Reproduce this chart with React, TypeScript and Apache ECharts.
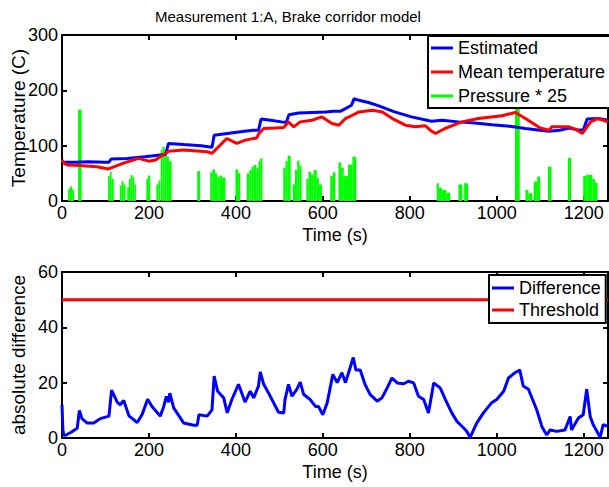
import React, { useEffect, useRef } from "react";
import * as echarts from "echarts";

// ---------- data ----------
const estT = [0,30,60,100,108,113,150,190,226,238,245,280,320,345,350,380,420,440,452,458,480,505,516,522,544,575,606,625,640,652,666,672,683,705,729,765,804,850,874,912,950,989,1030,1066,1100,1120,1145,1166,1185,1199,1208,1235,1256];
const estV = [70,70,71,70,70,76,77,80,83,84,104,102,100,97,119,122,126,128,128,148,146,143,142,156,159,160,161,162,162,167,173,185,182,178,172,161,152,144,146,143,141,138,135,131,128,126,128,132,129,128,148,149,146];

const meanT = [0,5,12,40,80,107,140,176,200,215,226,245,280,334,345,379,402,422,448,453,464,490,510,521,533,548,575,598,621,637,652,668,683,714,737,760,790,813,836,847,859,881,920,958,1012,1043,1066,1100,1120,1127,1166,1180,1197,1216,1232,1256];
const meanV = [74,68,65,64,62,58,68,77,72,74,80,90,92,89,86,113,104,110,114,122,131,132,133,143,134,143,146,152,140,137,149,155,161,164,161,149,137,134,136,128,122,131,143,149,154,160,149,132,128,134,134,130,122,143,149,143];

// pressure * 25 pulses: start time, end time, value
const pStart = [14,18,24,37,106,110,114,133,137,141,150,154,158,162,166,194,198,217,222,227,231,236,241,246,311,341,346,352,357,362,368,399,405,425,431,436,441,447,452,456,509,514,519,531,536,541,546,562,567,573,579,586,591,617,623,636,642,648,658,668,862,867,874,884,912,925,1042,1066,1073,1085,1093,1118,1164,1199,1206,1212,1220,1226];
const pEnd   = [18,24,28,45,110,114,119,137,141,146,154,158,162,166,170,198,203,222,226,231,236,241,246,252,318,346,352,357,362,368,376,405,410,431,436,441,447,452,456,461,514,519,526,536,541,546,551,567,573,579,586,591,598,623,629,642,648,658,668,677,867,874,884,893,921,934,1053,1073,1082,1093,1100,1126,1171,1206,1212,1220,1226,1232];
const pValue = [22,26,20,165,45,53,40,28,36,30,25,40,47,44,30,40,46,30,37,92,98,89,80,72,54,52,57,50,44,46,42,57,50,50,56,62,65,60,72,77,60,72,82,30,56,73,64,40,53,48,56,42,30,45,52,70,60,45,66,80,32,24,20,15,30,32,200,20,14,35,44,62,78,45,48,47,40,33];

const diffT = [0,2,4,8,20,35,40,46,58,73,88,108,114,127,134,142,154,173,184,197,207,226,234,240,245,248,257,280,303,311,315,334,345,350,358,372,380,391,406,421,433,441,452,456,464,475,498,510,513,521,529,540,548,556,571,583,590,600,610,623,633,644,652,663,670,676,686,697,709,725,736,748,759,771,786,797,809,820,832,843,855,870,882,897,909,924,931,939,954,969,988,1000,1016,1027,1042,1053,1061,1073,1092,1104,1115,1123,1138,1157,1169,1172,1188,1199,1207,1215,1222,1238,1245,1256];
const diffV = [12,3,1,1,2,3.5,10,7,5.4,5.4,7,7.9,17.3,13,12,13.6,8,5.6,8.4,14,11.4,7.9,11.4,15,12.9,16.2,10.9,5.4,4.6,4.6,8.4,7.9,10.2,22.4,16.9,14.5,9.1,14,19.4,13,16.9,14.5,18.8,23.9,19.4,16.3,9.3,9,13.9,19.4,15.1,17.6,20.2,15.7,13.9,11.4,11.4,8.4,12.7,23,20,23.6,20,25.5,29.1,24.6,24.6,19.4,15.7,13.3,14.5,18.1,21.7,19.9,19.6,20.5,19.9,15.1,13.9,9,19.9,18.1,13.9,9,5.9,3.6,2.4,0.3,5.4,9,12.7,13.9,16.9,21.7,23.6,24.6,18.8,17.6,10.2,4.1,1.1,2.9,2.4,2.9,7.8,2.9,7.2,8.4,17.6,7.8,4.8,0.3,4.8,4.2];

const thresholdT = [0, 1256];
const thresholdV = [50, 50];

const X_MAX = 1256;
const FONT = '"Liberation Sans", Arial, Helvetica, sans-serif';

const zip = (a: number[], b: number[]) => a.map((v, i) => [v, b[i]]);

function frameAxes(grid: number, yMin: number, yMax: number, yInt: number, yName: string) {
  const line = { show: true, onZero: false, lineStyle: { color: "#000", width: 2 } };
  const tick = { show: true, inside: true, length: 5, lineStyle: { color: "#000", width: 2 } };
  const label = { color: "#000", fontFamily: FONT, fontSize: 18 };
  const xAxes = [
    {
      type: "value", gridIndex: grid, position: "bottom", min: 0, max: X_MAX, interval: 200,
      axisLine: line, axisTick: tick, splitLine: { show: false },
      axisLabel: { ...label, margin: 3, formatter: (v: number) => (v % 200 === 0 ? String(v) : "") },
      name: "Time (s)", nameLocation: "middle", nameGap: 25, nameMoveOverlap: false,
      nameTextStyle: { color: "#000", fontFamily: FONT, fontSize: 18 },
    },
    {
      type: "value", gridIndex: grid, position: "top", min: 0, max: X_MAX, interval: 200,
      axisLine: line, axisTick: tick, splitLine: { show: false }, axisLabel: { show: false },
    },
  ];
  const yAxes = [
    {
      type: "value", gridIndex: grid, position: "left", min: yMin, max: yMax, interval: yInt,
      axisLine: line, axisTick: tick, splitLine: { show: false },
      axisLabel: { ...label, margin: 4 },
      name: yName, nameLocation: "middle", nameGap: 34, nameMoveOverlap: false,
      nameTextStyle: { color: "#000", fontFamily: FONT, fontSize: 19 },
    },
    {
      type: "value", gridIndex: grid, position: "right", min: yMin, max: yMax, interval: yInt,
      axisLine: line, axisTick: tick, splitLine: { show: false }, axisLabel: { show: false },
    },
  ];
  return { xAxes, yAxes };
}

export default function App() {
  const ref = useRef<HTMLDivElement>(null);
  useEffect(() => {
    if (!ref.current) return;
    const chart = echarts.init(ref.current, undefined, { renderer: "svg" });
    const a = frameAxes(0, 0, 300, 100, "Temperature (C)");
    const b = frameAxes(1, 0, 60, 20, "absolute difference");
    const legendBase = {
      orient: "vertical",
      icon: "rect",
      itemWidth: 22,
      itemHeight: 3,
      backgroundColor: "#fff",
      borderColor: "#000",
      borderWidth: 2,
      borderRadius: 0,
      textStyle: { color: "#000", fontFamily: FONT, fontSize: 18 },
      z: 10,
    };
    chart.setOption({
      animation: false,
      backgroundColor: "#fff",
      title: {
        text: "Measurement 1:A, Brake corridor model",
        left: 150,
        top: 4,
        textStyle: { color: "#000", fontFamily: FONT, fontSize: 15, fontWeight: "normal" },
      },
      grid: [
        { left: 62, top: 35, width: 546, height: 166, containLabel: false, outerBoundsMode: "none" },
        { left: 62, top: 272, width: 546, height: 166, containLabel: false, outerBoundsMode: "none" },
      ],
      xAxis: [...a.xAxes, ...b.xAxes],
      yAxis: [...a.yAxes, ...b.yAxes],
      legend: [
        {
          ...legendBase,
          left: 428, top: 36, padding: [3, 5, 3, 3], itemGap: 6,
          data: ["Estimated", "Mean temperature", "Pressure * 25"],
        },
        {
          ...legendBase,
          left: 489, top: 275, padding: [4, 5, 4, 3], itemGap: 4,
          data: ["Difference", "Threshold"],
        },
      ],
      series: [
        {
          name: "Estimated", type: "line", xAxisIndex: 0, yAxisIndex: 0,
          data: zip(estT, estV), symbol: "none",
          lineStyle: { color: "#0000ff", width: 3 }, itemStyle: { color: "#0000ff" },
        },
        {
          name: "Mean temperature", type: "line", xAxisIndex: 0, yAxisIndex: 0,
          data: zip(meanT, meanV), symbol: "none",
          lineStyle: { color: "#ff0000", width: 3 }, itemStyle: { color: "#ff0000" },
        },
        {
          name: "Pressure * 25", type: "custom", xAxisIndex: 0, yAxisIndex: 0,
          data: pStart.map((s, i) => [s, pEnd[i], pValue[i]]),
          encode: { x: [0, 1], y: 2 },
          itemStyle: { color: "#00ff00" },
          renderItem: (params: any, api: any) => {
            const p0 = api.coord([api.value(0), api.value(2)]);
            const p1 = api.coord([api.value(1), 0]);
            return {
              type: "rect",
              shape: { x: p0[0], y: p0[1], width: Math.max(p1[0] - p0[0], 1), height: p1[1] - p0[1] },
              style: { fill: "#00ff00" },
            };
          },
        },
        {
          name: "Difference", type: "line", xAxisIndex: 2, yAxisIndex: 2,
          data: zip(diffT, diffV), symbol: "none",
          lineStyle: { color: "#0000ff", width: 3 }, itemStyle: { color: "#0000ff" },
        },
        {
          name: "Threshold", type: "line", xAxisIndex: 2, yAxisIndex: 2,
          data: zip(thresholdT, thresholdV), symbol: "none",
          lineStyle: { color: "#ff0000", width: 3 }, itemStyle: { color: "#ff0000" },
        },
      ],
    });
    return () => chart.dispose();
  }, []);
  return (
    <div
      ref={ref}
      style={{ position: "fixed", left: 0, top: 0, width: 609, height: 487, background: "#fff" }}
    />
  );
}
